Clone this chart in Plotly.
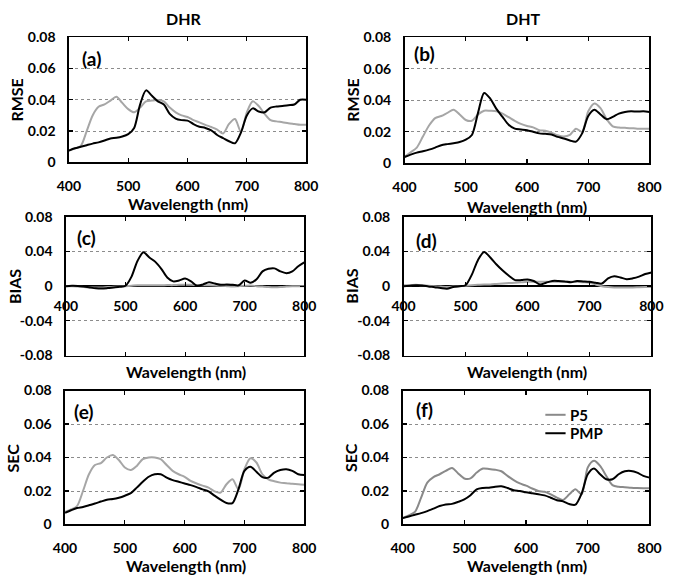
import plotly.graph_objects as go

# ---------------- data ----------------
wavelength = list(range(400, 801, 10))

x_ticks = [400, 500, 600, 700, 800]
x_tick_labels = ["400", "500", "600", "700", "800"]
err_ticks = [0, 0.02, 0.04, 0.06, 0.08]
err_tick_labels = ["0", "0.02", "0.04", "0.06", "0.08"]
bias_ticks = [-0.08, -0.04, 0, 0.04, 0.08]
bias_tick_labels = ["-0.08", "-0.04", "0", "0.04", "0.08"]

series_names = ["P5", "PMP"]
column_titles = ["DHR", "DHT"]

# (a) DHR RMSE
dhr_rmse_p5 = [0.0075, 0.0088, 0.0105, 0.020, 0.030, 0.0355, 0.037, 0.0395, 0.042, 0.038,
               0.034, 0.032, 0.035, 0.039, 0.0395, 0.0398, 0.039, 0.035, 0.032, 0.030,
               0.029, 0.027, 0.0256, 0.024, 0.0226, 0.021, 0.0185, 0.0246, 0.0277, 0.0195,
               0.032, 0.039, 0.036, 0.031, 0.027, 0.0262, 0.0257, 0.025, 0.0245, 0.024, 0.024]
dhr_rmse_pmp = [0.0075, 0.009, 0.010, 0.011, 0.012, 0.0128, 0.014, 0.0153, 0.0157, 0.0165,
                0.018, 0.022, 0.037, 0.046, 0.0425, 0.039, 0.037, 0.031, 0.028, 0.027,
                0.0267, 0.0245, 0.0228, 0.022, 0.0205, 0.0175, 0.0155, 0.0135, 0.0122, 0.019,
                0.030, 0.0345, 0.0325, 0.032, 0.035, 0.0357, 0.036, 0.0365, 0.037, 0.040, 0.040]
# (b) DHT RMSE
dht_rmse_p5 = [0.0042, 0.007, 0.010, 0.017, 0.024, 0.0287, 0.030, 0.032, 0.034, 0.031,
               0.0275, 0.027, 0.031, 0.0334, 0.0333, 0.033, 0.0315, 0.0293, 0.027, 0.025,
               0.0237, 0.0228, 0.021, 0.0207, 0.0195, 0.0178, 0.017, 0.018, 0.022, 0.020,
               0.033, 0.038, 0.035, 0.028, 0.0235, 0.0227, 0.0225, 0.0223, 0.022, 0.022, 0.022]
dht_rmse_pmp = [0.004, 0.0055, 0.0068, 0.0077, 0.0087, 0.010, 0.0115, 0.0122, 0.0128, 0.0135,
                0.015, 0.018, 0.032, 0.0446, 0.041, 0.0345, 0.0295, 0.0245, 0.022, 0.0215,
                0.021, 0.020, 0.019, 0.0187, 0.0183, 0.0168, 0.0158, 0.0145, 0.0138, 0.019,
                0.030, 0.034, 0.031, 0.028, 0.0295, 0.0315, 0.0326, 0.033, 0.0328, 0.033, 0.0325]
# (c) DHR BIAS
dhr_bias_p5 = [0.0, 0.0, -0.0005, -0.001, -0.0015, -0.0015, -0.0015, -0.001, -0.0008, -0.0005,
               0.0, 0.0005, 0.001, 0.001, 0.001, 0.001, 0.001, 0.0012, 0.0012, 0.0015,
               0.0015, 0.0015, 0.0012, 0.001, 0.001, 0.0008, 0.0005, 0.0, -0.0005, 0.0,
               0.0005, 0.0008, 0.0, -0.0005, -0.001, -0.0012, -0.001, -0.0005, 0.0, 0.0, 0.0]
dhr_bias_pmp = [0.0, 0.0005, 0.0003, -0.0005, -0.0015, -0.0024, -0.0027, -0.0022, -0.0015, -0.0008,
                0.0005, 0.011, 0.029, 0.039, 0.033, 0.028, 0.020, 0.010, 0.0055, 0.0065,
                0.0087, 0.0055, 0.0005, 0.002, 0.0045, 0.003, 0.0015, 0.002, 0.0015, 0.001,
                0.0065, 0.004, 0.008, 0.017, 0.020, 0.0205, 0.017, 0.015, 0.017, 0.023, 0.0275]
# (d) DHT BIAS
dht_bias_p5 = [0.001, 0.001, 0.0015, 0.001, 0.0005, 0.0, -0.0005, -0.001, -0.0005, 0.0,
               0.0005, 0.001, 0.0015, 0.002, 0.002, 0.0025, 0.003, 0.0035, 0.004, 0.0045,
               0.005, 0.005, 0.005, 0.005, 0.005, 0.005, 0.005, 0.005, 0.005, 0.0045,
               0.004, 0.002, 0.0, -0.001, -0.0015, -0.0015, -0.0015, -0.0015, -0.0012, -0.001, -0.001]
dht_bias_pmp = [0.0, 0.0005, 0.001, 0.0008, -0.0003, -0.0012, -0.0022, -0.003, -0.001, 0.0,
                0.001, 0.013, 0.030, 0.0395, 0.033, 0.025, 0.018, 0.012, 0.007, 0.007,
                0.0078, 0.006, 0.002, 0.004, 0.006, 0.006, 0.0055, 0.0045, 0.006, 0.0055,
                0.005, 0.004, 0.003, 0.009, 0.0115, 0.010, 0.008, 0.009, 0.011, 0.014, 0.0158]
# (e) DHR SEC
dhr_sec_p5 = [0.0075, 0.009, 0.011, 0.020, 0.030, 0.0355, 0.0367, 0.040, 0.0415, 0.0385,
              0.034, 0.0325, 0.035, 0.039, 0.040, 0.040, 0.039, 0.0355, 0.032, 0.030,
              0.0285, 0.026, 0.0245, 0.0232, 0.022, 0.0198, 0.019, 0.024, 0.027, 0.021,
              0.033, 0.0395, 0.037, 0.030, 0.027, 0.0258, 0.025, 0.0247, 0.0243, 0.024, 0.0238]
dhr_sec_pmp = [0.007, 0.0085, 0.0098, 0.0105, 0.0115, 0.0125, 0.0137, 0.0148, 0.0152, 0.016,
               0.0172, 0.0187, 0.022, 0.0255, 0.0285, 0.030, 0.030, 0.028, 0.0265, 0.0255,
               0.0245, 0.0235, 0.0223, 0.021, 0.0198, 0.0172, 0.0148, 0.0128, 0.0128, 0.021,
               0.032, 0.0345, 0.0315, 0.0283, 0.028, 0.031, 0.0325, 0.033, 0.032, 0.030, 0.0295]
# (f) DHT SEC
dht_sec_p5 = [0.0038, 0.0055, 0.0075, 0.016, 0.025, 0.0283, 0.030, 0.032, 0.0338, 0.0305,
              0.0275, 0.0275, 0.031, 0.0334, 0.0332, 0.0327, 0.0318, 0.029, 0.0265, 0.0245,
              0.0232, 0.0215, 0.020, 0.0195, 0.018, 0.016, 0.0147, 0.018, 0.021, 0.018,
              0.034, 0.038, 0.035, 0.029, 0.0235, 0.0225, 0.0223, 0.022, 0.0218, 0.0217, 0.0217]
dht_sec_pmp = [0.0038, 0.0048, 0.0058, 0.0068, 0.008, 0.0095, 0.011, 0.012, 0.0123, 0.0135,
               0.015, 0.0175, 0.021, 0.0218, 0.022, 0.0226, 0.0228, 0.0218, 0.0204, 0.020,
               0.0192, 0.0186, 0.018, 0.0174, 0.016, 0.0145, 0.0138, 0.0122, 0.0118, 0.0185,
               0.030, 0.0335, 0.030, 0.027, 0.027, 0.030, 0.0318, 0.032, 0.031, 0.029, 0.028]

# ---------------- layout / style ----------------
W, H = 675, 582
FONT = "Lato"
BLACK = "#000000"
GRAY_LIGHT = "#a6a6a6"
GRAY_DARK = "#8a8a8a"
GRID = "#8c8c8c"

# pixel boxes (left, top, right, bottom) of each plot area
panels = [
    dict(box=(59, 29, 305, 158), ylab="RMSE", tag="(a)", p5=dhr_rmse_p5, pmp=dhr_rmse_pmp, kind="err",
         tagpos=(0.045, 0.83), gray=GRAY_LIGHT),
    dict(box=(407, 29, 661, 159), ylab="RMSE", tag="(b)", p5=dht_rmse_p5, pmp=dht_rmse_pmp, kind="err",
         tagpos=(0.03, 0.87), gray=GRAY_LIGHT),
    dict(box=(56, 214, 303, 357), ylab="BIAS", tag="(c)", p5=dhr_bias_p5, pmp=dhr_bias_pmp, kind="bias",
         tagpos=(0.036, 0.853), gray=GRAY_LIGHT),
    dict(box=(406, 214, 663, 357), ylab="BIAS", tag="(d)", p5=dht_bias_p5, pmp=dht_bias_pmp, kind="bias",
         tagpos=(0.043, 0.83), gray=GRAY_LIGHT),
    dict(box=(55, 393, 303, 531), ylab="SEC", tag="(e)", p5=dhr_sec_p5, pmp=dhr_sec_pmp, kind="err",
         tagpos=(0.028, 0.84), gray=GRAY_LIGHT),
    dict(box=(405, 393, 661, 531), ylab="SEC", tag="(f)", p5=dht_sec_p5, pmp=dht_sec_pmp, kind="err",
         tagpos=(0.047, 0.862), gray=GRAY_DARK),
]

tick_font = dict(family=FONT, size=14, color=BLACK, weight="bold")
title_font = dict(family=FONT, size=16, color=BLACK, weight="bold")

fig = go.Figure()
layout = dict(
    width=W, height=H,
    margin=dict(l=0, r=0, t=0, b=0),
    paper_bgcolor="white", plot_bgcolor="white",
    font=dict(family=FONT, size=14, color=BLACK),
    showlegend=False,
)
annotations = []
shapes = []

for i, p in enumerate(panels, start=1):
    sfx = "" if i == 1 else str(i)
    l, t, r, b = p["box"]
    xdom = [l / W, r / W]
    ydom = [1 - b / H, 1 - t / H]
    xref, yref = "x" + sfx, "y" + sfx
    is_bias = p["kind"] == "bias"
    # in bias panels the black series sits on the zero-crossing x axis (same range)
    pmp_xref = ("x" + str(i + 4)) if is_bias else xref

    for name, vals, col, xr in (("P5", p["p5"], p["gray"], xref), ("PMP", p["pmp"], BLACK, pmp_xref)):
        fig.add_trace(go.Scatter(
            x=wavelength, y=vals, name=name, mode="lines",
            line=dict(color=col, width=2, shape="spline", smoothing=0.8),
            xaxis=xr, yaxis=yref, hoverinfo="skip"))

    layout["xaxis" + sfx] = dict(
        domain=xdom, anchor=yref, range=[400, 800],
        tickvals=x_ticks, ticktext=x_tick_labels,
        showticklabels=not is_bias, tickfont=tick_font,
        ticks="inside", ticklen=4, tickcolor=BLACK, tickwidth=1.2,
        showline=True, linecolor=BLACK, linewidth=1.6, mirror="ticks",
        showgrid=False, zeroline=False, ticklabelstandoff=10,
    )
    layout["yaxis" + sfx] = dict(
        domain=ydom, anchor=xref,
        range=[-0.08, 0.08] if is_bias else [0, 0.08],
        tickvals=bias_ticks if is_bias else err_ticks,
        ticktext=bias_tick_labels if is_bias else err_tick_labels,
        tickfont=tick_font,
        ticks="inside", ticklen=4, tickcolor=BLACK, tickwidth=1.2,
        showline=True, linecolor=BLACK, linewidth=1.6, mirror="ticks",
        showgrid=True, gridcolor=GRID, gridwidth=1, griddash="dot",
        zeroline=is_bias, zerolinecolor=BLACK, zerolinewidth=1.6,
        ticklabelstandoff=9,
    )
    if is_bias:
        layout["xaxis" + str(i + 4)] = dict(
            overlaying=xref, anchor="free", position=(ydom[0] + ydom[1]) / 2,
            range=[400, 800], tickvals=x_ticks, ticktext=x_tick_labels,
            tickfont=tick_font, ticks="inside", ticklen=4, tickcolor=BLACK,
            showline=False, showgrid=False, zeroline=False, ticklabelstandoff=10,
        )

    # panel tag
    annotations.append(dict(text=p["tag"], xref=xref + " domain", yref=yref + " domain",
                            x=p["tagpos"][0], y=p["tagpos"][1], xanchor="left", yanchor="middle",
                            showarrow=False, font=dict(family=FONT, size=19, color=BLACK, weight="bold")))
    # y title
    annotations.append(dict(text=p["ylab"], xref="paper", yref=yref + " domain",
                            x=(l - 54) / W, y=0.5, xanchor="center", yanchor="middle", textangle=-90,
                            showarrow=False, font=title_font))

# x titles (pixel centres)
for cx, cy in ((182, 200), (534, 203), (180, 373), (534, 373), (180, 573), (534, 573)):
    annotations.append(dict(text="Wavelength (nm)", xref="paper", yref="paper",
                            x=cx / W, y=1 - cy / H, xanchor="center", yanchor="middle",
                            showarrow=False, font=title_font))
# column titles
for txt, cx in zip(column_titles, (178, 530)):
    annotations.append(dict(text=txt, xref="paper", yref="paper", x=cx / W, y=1 - 10 / H,
                            xanchor="center", yanchor="middle", showarrow=False,
                            font=dict(family=FONT, size=16, color=BLACK, weight="bold")))

# legend inside panel (f)
for name, col, ly in ((series_names[0], GRAY_DARK, 418), (series_names[1], BLACK, 437)):
    shapes.append(dict(type="line", xref="paper", yref="paper",
                       x0=553 / W, x1=574 / W, y0=1 - ly / H, y1=1 - ly / H,
                       line=dict(color=col, width=2)))
    annotations.append(dict(text=name, xref="paper", yref="paper", x=576 / W, y=1 - ly / H,
                            xanchor="left", yanchor="middle", showarrow=False,
                            font=dict(family=FONT, size=15, color=BLACK, weight="bold")))

layout["annotations"] = annotations
layout["shapes"] = shapes
fig.update_layout(**layout)
fig.write_html("out.html",
               config={"displayModeBar": False, "staticPlot": True},
               post_script="document.body.style.margin='0';document.body.style.overflow='hidden';")
